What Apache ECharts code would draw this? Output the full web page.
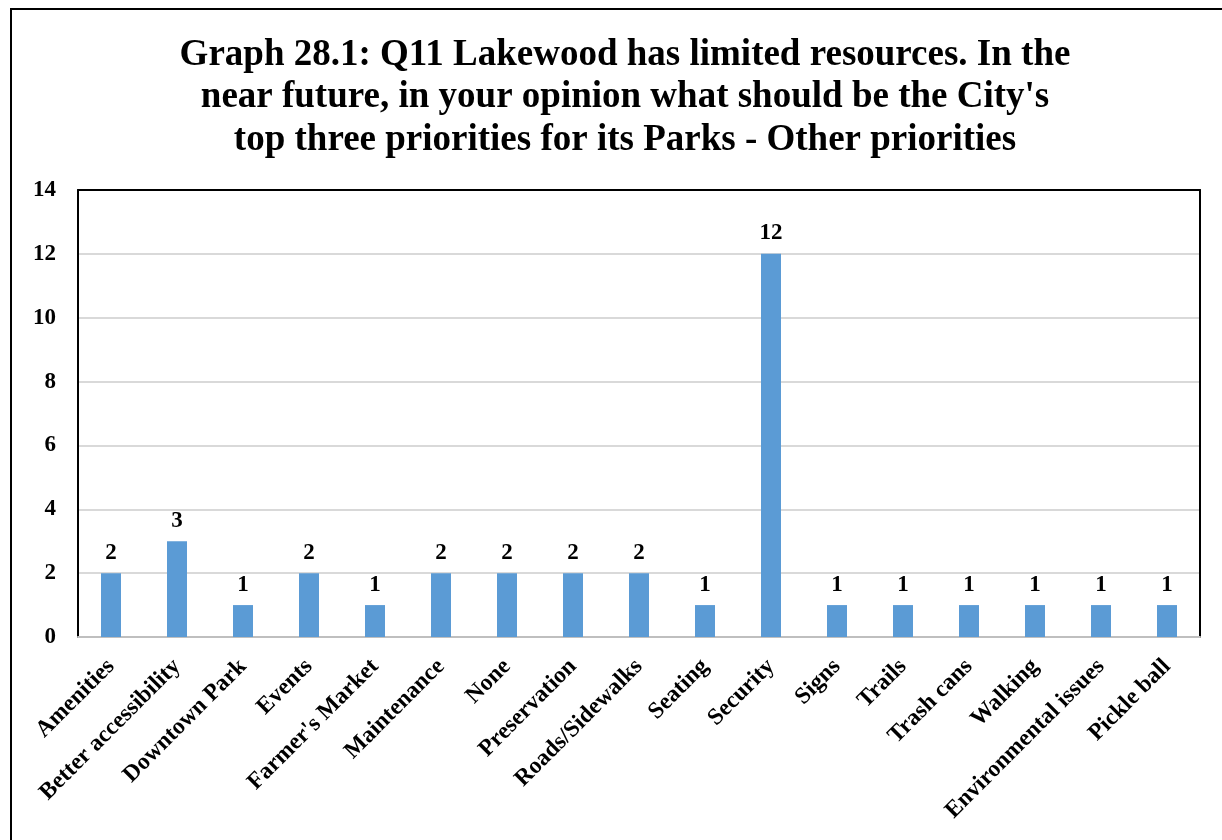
<!DOCTYPE html>
<html><head><meta charset="utf-8">
<script src="https://cdn.jsdelivr.net/npm/echarts@6/dist/echarts.min.js"></script>
<style>html,body{margin:0;padding:0;background:#fff}#c{width:1222px;height:840px}</style>
</head><body><div id="c"></div>
<script>
const titleLines = ["Graph 28.1: Q11 Lakewood has limited resources. In the", "near future, in your opinion what should be the City's", "top three priorities for its Parks - Other priorities"];
const categories = ["Amenities", "Better accessibility", "Downtown Park", "Events", "Farmer's Market", "Maintenance", "None", "Preservation", "Roads/Sidewalks", "Seating", "Security", "Signs", "Trails", "Trash cans", "Walking", "Environmental issues", "Pickle ball"];
const values = [2, 3, 1, 2, 1, 2, 2, 2, 2, 1, 12, 1, 1, 1, 1, 1, 1];
const FONT = '"Liberation Serif","Times New Roman",serif';
const chart = echarts.init(document.getElementById('c'));
chart.setOption({
  backgroundColor: '#fff',
  animation: false,
  title: {
    text: titleLines.join('\n'),
    left: 620, textAlign: 'center', top: 29,
    textStyle: { fontFamily: FONT, fontWeight: 'bold', fontSize: 37, lineHeight: 42.5, color: '#000' }
  },
  graphic: [{
    type: 'rect', shape: { x: 11, y: 9, width: 1230, height: 850 },
    style: { fill: 'none', stroke: '#000', lineWidth: 2 }, z: 100
  }],
  grid: { left: 78, right: 22, top: 190, bottom: 203 },
  xAxis: [{
    type: 'category', data: categories,
    axisLine: { show: true, onZero: false, lineStyle: { color: '#bfbfbf', width: 2 } },
    axisTick: { show: false },
    axisLabel: { rotate: 45, interval: 0, margin: 26, fontFamily: FONT, fontWeight: 'bold', fontSize: 23.5, color: '#000' }
  }, {
    type: 'category', data: categories, position: 'top',
    axisLine: { show: true, onZero: false, lineStyle: { color: '#000', width: 2 } },
    axisTick: { show: false }, axisLabel: { show: false }, splitLine: { show: false }
  }],
  yAxis: [{
    type: 'value', min: 0, max: 14, interval: 2,
    axisLine: { show: true, onZero: false, lineStyle: { color: '#000', width: 2 } },
    axisTick: { show: false },
    splitLine: { lineStyle: { color: '#d9d9d9', width: 2 } },
    axisLabel: { margin: 22, fontFamily: FONT, fontWeight: 'bold', fontSize: 23, color: '#000' }
  }, {
    type: 'value', min: 0, max: 14, interval: 2, position: 'right',
    axisLine: { show: true, onZero: false, lineStyle: { color: '#000', width: 2 } },
    axisTick: { show: false }, axisLabel: { show: false }, splitLine: { show: false }
  }],
  series: [{
    type: 'bar', data: values, barWidth: 20,
    itemStyle: { color: '#5b9bd5' },
    label: { show: true, position: 'top', distance: 9, fontFamily: FONT, fontWeight: 'bold', fontSize: 23, color: '#000' }
  }]
});
</script></body></html>
